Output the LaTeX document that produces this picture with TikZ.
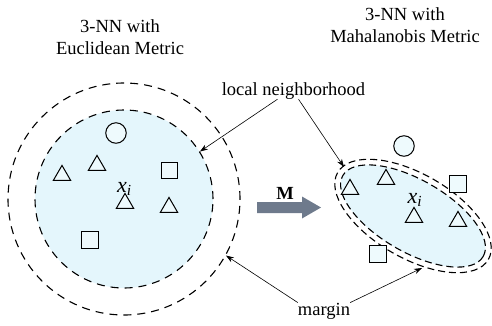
\documentclass[tikz,border=0pt]{standalone}
\usepackage{fontspec}
\setmainfont{Liberation Serif}
\usetikzlibrary{shapes.geometric,arrows.meta}

\definecolor{nbfill}{HTML}{E4F6FC}
\definecolor{ptfill}{HTML}{EEFAFD}
\definecolor{mgray}{HTML}{6E7A8C}

\tikzset{
    lbl/.style={font=\fontsize{18.5}{22}\selectfont, inner sep=0pt},
    var/.style={font=\fontsize{22}{26}\selectfont, inner sep=0pt},
    tri/.style={regular polygon, regular polygon sides=3, draw, fill=ptfill, minimum size=20pt, inner sep=0pt, line width=1pt},
    sq/.style={rectangle, draw, fill=ptfill, minimum size=16.5pt, inner sep=0pt, line width=1pt},
    pt/.style={circle, draw, fill=ptfill, minimum size=20.5pt, inner sep=0pt, line width=1pt},
    bound/.style={draw, line width=1.1pt, dash pattern=on 8pt off 6pt, inner sep=0pt},
    boundR/.style={bound, dash pattern=on 7pt off 4pt},
    ptr/.style={-{Stealth[length=8pt,width=5.5pt]}, line width=0.6pt}
}

\begin{document}
\begin{tikzpicture}[x=1pt, y=1pt]
    \useasboundingbox (0,0) rectangle (492,-325);

    % Titles
    \node[lbl, align=center, anchor=north] (titleL) at (120,-19) {3-NN with\\Euclidean Metric};
    \node[lbl, align=center, anchor=north] (titleR) at (405,-7) {3-NN with\\Mahalanobis Metric};

    % Euclidean neighborhood
    \node[bound, circle, minimum size=232pt] (outL) at (124,-199) {};
    \node[bound, circle, fill=nbfill, minimum size=178pt] (inL) at (124,-199) {};

    \node[pt] (cL) at (116,-133) {};
    \node[tri] (tL1) at (62,-175.4) {};
    \node[tri] (tL2) at (97,-165.4) {};
    \node[tri] (tL3) at (125,-203.4) {};
    \node[tri] (tL4) at (169,-207.4) {};
    \node[sq] (sL1) at (169.5,-170.5) {};
    \node[sq] (sL2) at (90,-240) {};
    \node[var, anchor=base] (xL) at (124.5,-192) {\textit{x}\textsubscript{\textit{i}}};

    % Mapping
    \fill[mgray] (257,-202) -- (302,-202) -- (302,-196.5) -- (321,-207.5)
        -- (302,-218.5) -- (302,-213) -- (257,-213) -- cycle;
    \node[lbl, anchor=base] (M) at (285,-199) {\textbf{M}};

    % Mahalanobis neighborhood
    \node[boundR, ellipse, rotate=-30, minimum width=174pt, minimum height=84pt] (outR) at (413,-216) {};
    \node[boundR, ellipse, rotate=-30, fill=nbfill, minimum width=162pt, minimum height=72pt] (inR) at (413,-216) {};

    \node[pt] (cR) at (404,-146) {};
    \node[tri] (tR1) at (350,-189.4) {};
    \node[tri] (tR2) at (386,-179.4) {};
    \node[tri] (tR3) at (414,-217.4) {};
    \node[tri] (tR4) at (458,-221.4) {};
    \node[sq] (sR1) at (458,-184) {};
    \node[sq] (sR2) at (378,-254) {};
    \node[var, anchor=base] (xR) at (415,-203) {\textit{x}\textsubscript{\textit{i}}};

    % Labels
    \node[lbl, anchor=base] (lnb) at (293.5,-95) {local neighborhood};
    \node[lbl, anchor=base] (mrg) at (324,-315) {margin};

    \coordinate (nbR) at (344,-167);
    \coordinate (mgR) at (422,-268);

    \draw[ptr] ([xshift=-16pt]lnb.south) -- (inL.32);
    \draw[ptr] ([xshift=5pt]lnb.south) -- (nbR);
    \draw[ptr] (mrg.north west) -- (outL.-29);
    \draw[ptr] (mrg.north east) -- (mgR);
\end{tikzpicture}
\end{document}
